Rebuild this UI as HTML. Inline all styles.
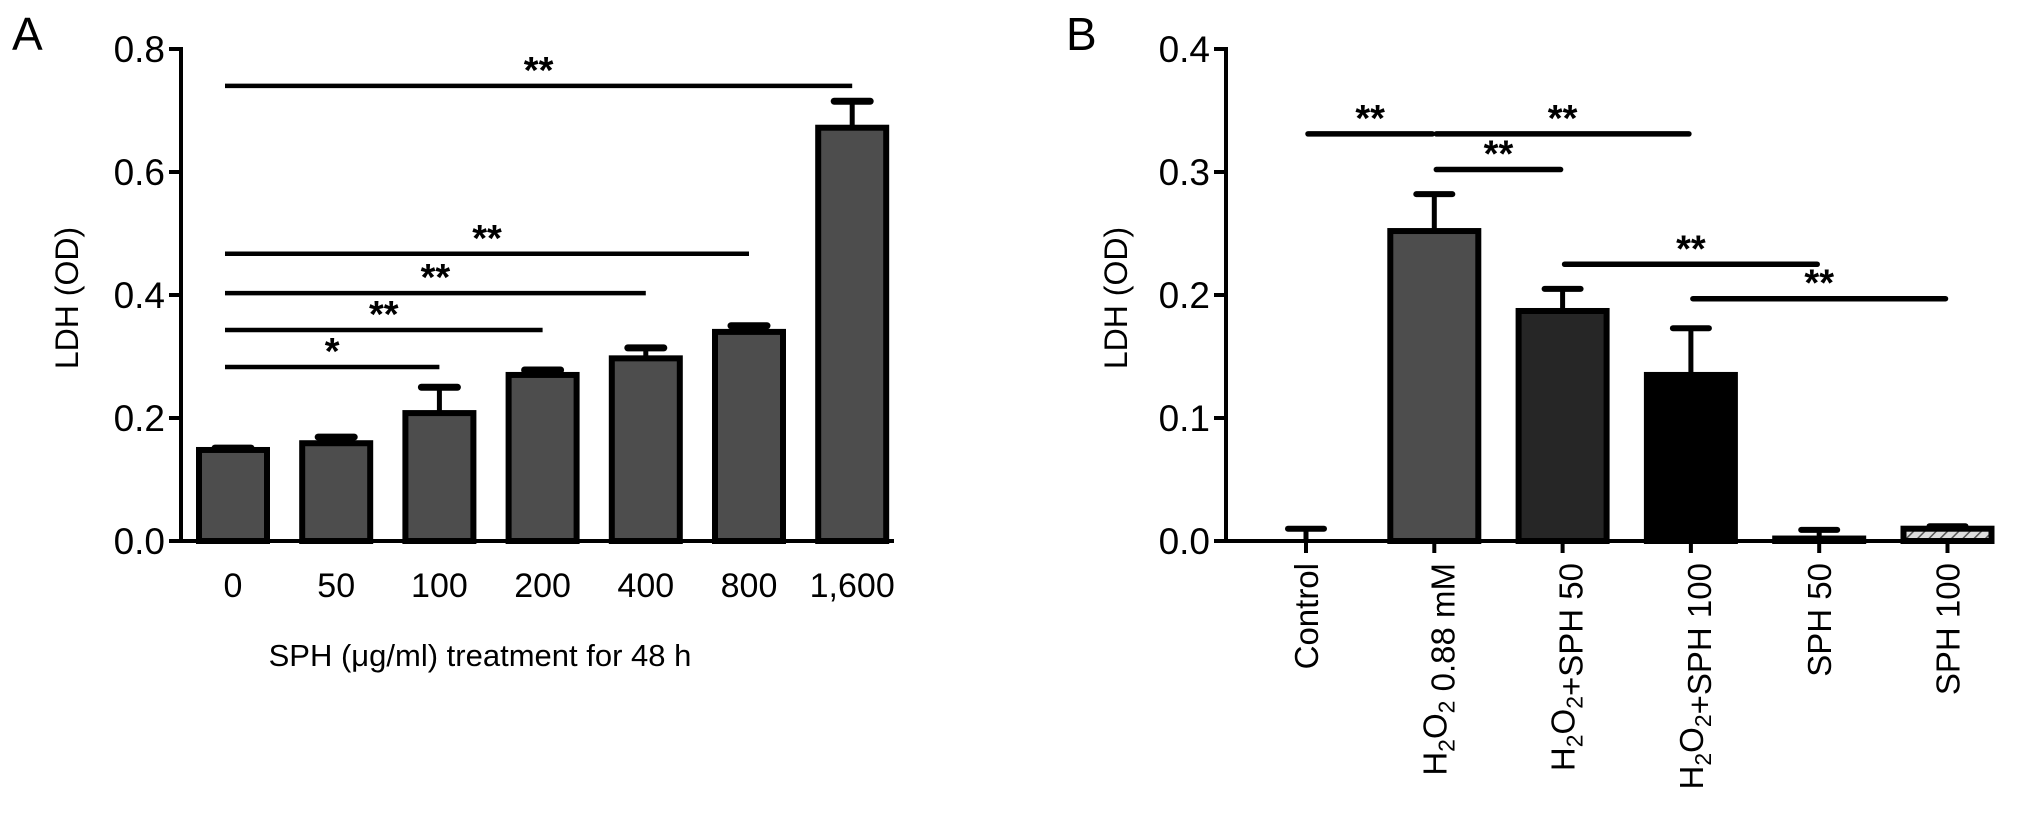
<!DOCTYPE html>
<html><head><meta charset="utf-8"><style>
html,body{margin:0;padding:0;background:#fff;}
svg{display:block;font-family:"Liberation Sans",Arial,sans-serif;}
</style></head><body>
<svg id="chart" width="2032" height="815" viewBox="0 0 2032 815" xmlns="http://www.w3.org/2000/svg">
<defs>
<pattern id="hatch" width="8" height="8" patternUnits="userSpaceOnUse" patternTransform="rotate(45)">
<rect width="8" height="8" fill="#ddd"/><line x1="0" y1="0" x2="0" y2="8" stroke="#555" stroke-width="3"/>
</pattern>
</defs>
<text x="12" y="50" font-size="46">A</text>
<text x="1066" y="50" font-size="46">B</text>
<g id="pa"></g>
<g id="pb"></g>
</svg>
<script>
// Panel A data
const aCategories = ["0","50","100","200","400","800","1,600"];
const aValues = [0.148, 0.159, 0.208, 0.270, 0.297, 0.340, 0.672];
const aErrors = [0.003, 0.010, 0.042, 0.008, 0.017, 0.010, 0.043];
const aTicks = [0.0, 0.2, 0.4, 0.6, 0.8];
const aSigFrom = [0, 0, 0, 0, 0];
const aSigTo = [2, 3, 4, 5, 6];
const aSigY = [0.283, 0.343, 0.403, 0.467, 0.740];
const aSigText = ["*", "**", "**", "**", "**"];
// Panel B data
const bCategories = ["Control","H2O2 0.88 mM","H2O2+SPH 50","H2O2+SPH 100","SPH 50","SPH 100"];
const bValues = [0.000, 0.252, 0.187, 0.135, 0.002, 0.010];
const bErrors = [0.010, 0.030, 0.018, 0.038, 0.007, 0.002];
const bTicks = [0.0, 0.1, 0.2, 0.3, 0.4];
const bSigFrom = [0, 1, 1, 2, 3];
const bSigTo = [1, 3, 2, 4, 5];
const bSigY = [0.331, 0.331, 0.302, 0.225, 0.197];

const NS = "http://www.w3.org/2000/svg";
function mk(parent, tag, attrs, text) {
  const e = document.createElementNS(NS, tag);
  for (const k in attrs) e.setAttribute(k, attrs[k]);
  if (text !== undefined) e.textContent = text;
  parent.appendChild(e);
  return e;
}

// ---- Panel A
(function () {
  const g = document.getElementById("pa");
  const x0 = 181, yTop = 49, yBot = 541, yMax = 0.8;
  const y = v => yBot - (v / yMax) * (yBot - yTop);
  const xc = i => 233 + i * 103.2;
  const bw = 68;
  let e = mk(g, "line", {x1: x0, y1: yTop - 2, x2: x0, y2: yBot + 2, stroke: "#000", "stroke-width": 4});
  
  
  e = mk(g, "line", {x1: x0, y1: yBot, x2: 894, y2: yBot, stroke: "#000", "stroke-width": 4});
  
  
  aTicks.forEach(t => {
    const tk = mk(g, "line", {x1: x0 - 12, y1: y(t), x2: x0, y2: y(t), stroke: "#000", "stroke-width": 4});
    
    
    const tl = mk(g, "text", {x: x0 - 16, y: y(t) + 13, "font-size": 37, "text-anchor": "end"}, t.toFixed(1));
    
    
  });
  aCategories.forEach((c, i) => {
    const cx = xc(i);
    const er = mk(g, "line", {x1: cx, y1: y(aValues[i]), x2: cx, y2: y(aValues[i] + aErrors[i]), stroke: "#000", "stroke-width": 5});
    
    
    const cap = mk(g, "line", {x1: cx - 18, y1: y(aValues[i] + aErrors[i]), x2: cx + 18, y2: y(aValues[i] + aErrors[i]), stroke: "#000", "stroke-width": 7, "stroke-linecap": "round"});
    
    
    const b = mk(g, "rect", {x: cx - bw / 2, y: y(aValues[i]), width: bw, height: yBot - y(aValues[i]), fill: "#4d4d4d", stroke: "#000", "stroke-width": 6});
    
    
    const tl = mk(g, "text", {x: cx, y: 597, "font-size": 34, "text-anchor": "middle"}, c);
    
    
  });
  aSigY.forEach((v, k) => {
    const xa = xc(aSigFrom[k]) - 8, xb = xc(aSigTo[k]);
    const l = mk(g, "line", {x1: xa, y1: y(v), x2: xb, y2: y(v), stroke: "#000", "stroke-width": 4.5});
    
    
    const s = mk(g, "text", {x: (xa + xb) / 2, y: y(v) - 3, "font-size": 38, "text-anchor": "middle", "font-weight": "bold"}, aSigText[k]);
    
    
  });
  const yt = mk(g, "text", {x: 0, y: 0, "font-size": 32, "text-anchor": "middle", transform: "translate(78,298) rotate(-90)"}, "LDH (OD)");
  
  
  const xt = mk(g, "text", {x: 480, y: 666, "font-size": 31, "text-anchor": "middle"}, "SPH (\u03bcg/ml) treatment for 48 h");
  
  
})();

// ---- Panel B
(function () {
  const g = document.getElementById("pb");
  const x0 = 1226, yTop = 49, yBot = 541, yMax = 0.4;
  const y = v => yBot - (v / yMax) * (yBot - yTop);
  const xc = i => 1306 + i * 128.3;
  const bw = 88;
  const fills = ["#4d4d4d", "#4d4d4d", "#262626", "#000", "#4d4d4d", "url(#hatch)"];
  let e = mk(g, "line", {x1: x0, y1: yTop - 2, x2: x0, y2: yBot + 2, stroke: "#000", "stroke-width": 4});
  
  
  e = mk(g, "line", {x1: x0, y1: yBot, x2: 1955, y2: yBot, stroke: "#000", "stroke-width": 4});
  
  
  bTicks.forEach(t => {
    const tk = mk(g, "line", {x1: x0 - 12, y1: y(t), x2: x0, y2: y(t), stroke: "#000", "stroke-width": 4});
    
    
    const tl = mk(g, "text", {x: x0 - 16, y: y(t) + 13, "font-size": 37, "text-anchor": "end"}, t.toFixed(1));
    
    
  });
  bCategories.forEach((c, i) => {
    const cx = xc(i);
    const tk = mk(g, "line", {x1: cx, y1: yBot, x2: cx, y2: yBot + 12, stroke: "#000", "stroke-width": 4});
    
    
    const er = mk(g, "line", {x1: cx, y1: y(bValues[i]), x2: cx, y2: y(bValues[i] + bErrors[i]), stroke: "#000", "stroke-width": 5});
    
    
    const cap = mk(g, "line", {x1: cx - 18, y1: y(bValues[i] + bErrors[i]), x2: cx + 18, y2: y(bValues[i] + bErrors[i]), stroke: "#000", "stroke-width": 6, "stroke-linecap": "round"});
    
    
    if (bValues[i] > 0) {
      const b = mk(g, "rect", {x: cx - bw / 2, y: y(bValues[i]), width: bw, height: yBot - y(bValues[i]), fill: fills[i], stroke: "#000", "stroke-width": 6});
      
      
    }
    const t = mk(g, "text", {x: 0, y: 0, "font-size": 33, "text-anchor": "end", transform: "translate(" + (cx + 12) + ",563) rotate(-90)"});
    
    
    const parts = c.split(/(H2O2)/);
    parts.forEach(p => {
      if (p === "H2O2") {
        mk(t, "tspan", {}, "H");
        mk(t, "tspan", {"font-size": 23, dy: 8}, "2");
        mk(t, "tspan", {dy: -8}, "O");
        mk(t, "tspan", {"font-size": 23, dy: 8}, "2");
        mk(t, "tspan", {dy: -8}, "");
      } else if (p) mk(t, "tspan", {}, p);
    });
  });
  bSigY.forEach((v, k) => {
    const xa = xc(bSigFrom[k]) + 2, xb = xc(bSigTo[k]) - 2;
    const l = mk(g, "line", {x1: xa, y1: y(v), x2: xb, y2: y(v), stroke: "#000", "stroke-width": 5.5, "stroke-linecap": "round"});
    
    
    const s = mk(g, "text", {x: (xa + xb) / 2, y: y(v) - 3, "font-size": 38, "text-anchor": "middle", "font-weight": "bold"}, "**");
    
    
  });
  const yt = mk(g, "text", {x: 0, y: 0, "font-size": 32, "text-anchor": "middle", transform: "translate(1127,298) rotate(-90)"}, "LDH (OD)");
  
  
})();
</script>
</body></html>
